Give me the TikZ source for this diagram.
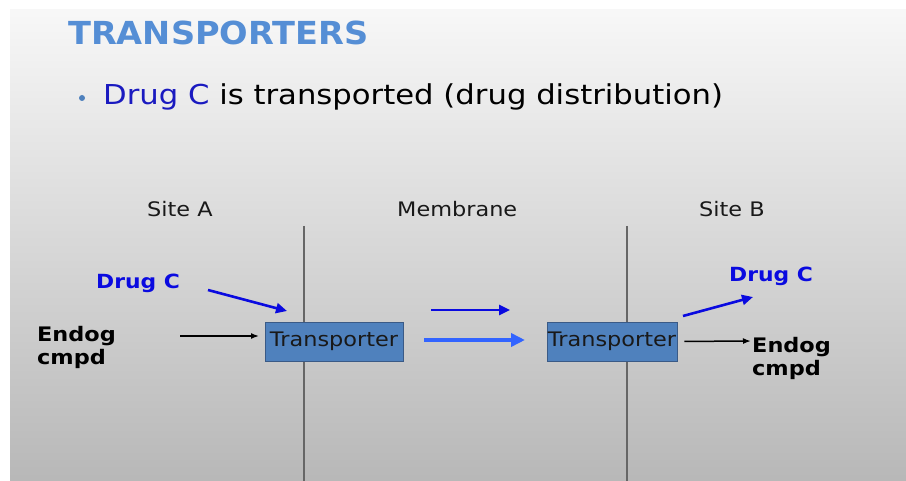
\documentclass[tikz,border=0pt]{standalone}
\usepackage{fontspec}
\setmainfont{DejaVu Sans}[FakeStretch=1.12]
\newfontfamily\titlefont{DejaVu Sans}[FakeStretch=1.06]
\usepackage{tikz}
\usetikzlibrary{arrows.meta}
\definecolor{SBlue}{HTML}{4F81BD}
\definecolor{BoxEdge}{HTML}{3A5A86}
\definecolor{TitleBlue}{HTML}{558ED5}
\definecolor{TextBlue}{HTML}{1A1AC0}
\definecolor{DrugBlue}{HTML}{0A0AE0}
\definecolor{FlowBlue}{HTML}{3264FF}

\begin{document}
\begin{tikzpicture}[
  x=1pt,y=-1pt,
  lbl/.style={inner sep=0pt,anchor=base west},
  heading/.style={lbl,font=\titlefont\fontsize{31.7}{36}\selectfont\bfseries},
  drug/.style={lbl,font=\fontsize{19.5}{23}\selectfont\bfseries,text=DrugBlue},
  endog/.style={inner sep=0pt,anchor=north west,align=left,
    font=\fontsize{20}{23}\selectfont\bfseries},
  site/.style={lbl,font=\fontsize{20}{24}\selectfont,text=black!90},
  carrier/.style={draw=BoxEdge,fill=SBlue,line width=0.8pt,minimum height=39pt,
    inner sep=0pt,font=\fontsize{20}{24}\selectfont,text=black!90},
  membr/.style={draw=black!60,line width=1.2pt},
  thinarr/.style={-{Latex[length=8pt,width=6pt]},line width=1.5pt},
  bluearr/.style={-{Triangle[length=11pt,width=10pt]},line width=2.6pt,color=DrugBlue},
  widearr/.style={-{Triangle[length=14pt,width=13pt]},line width=4.5pt,color=FlowBlue}
]
  \useasboundingbox (0,0) rectangle (906,481);
  \fill[white] (0,0) rectangle (906,481);
  \shade[top color=black!3,bottom color=black!28] (10,10) rectangle (906,481);

  % heading and bullet
  \node[heading,text=TitleBlue] (title) at (68,45) {TRANSPORTERS};
  \node[circle,fill=SBlue,inner sep=0pt,minimum size=6pt] (dot) at (82,98) {};
  \node[lbl,font=\fontsize{27.4}{32}\selectfont] (point) at (103,105)
    {\textcolor{TextBlue}{Drug C} is transported (drug distribution)};

  \node[site] (siteA) at (147,217) {Site A};
  \node[site] (membrane) at (397,217) {Membrane};
  \node[site] (siteB) at (699,217) {Site B};

  % membrane walls
  \coordinate (wallAtop) at (304,226);
  \coordinate (wallAbot) at (304,481);
  \coordinate (wallBtop) at (627,226);
  \coordinate (wallBbot) at (627,481);
  \draw[membr] (wallAtop) -- (wallAbot);
  \draw[membr] (wallBtop) -- (wallBbot);

  \node[carrier,minimum width=138pt] (tr1) at (334,341.5) {Transporter};
  \node[carrier,minimum width=130pt] (tr2) at (612,341.5) {Transporter};

  \node[drug] (drugA) at (96,289) {Drug C};
  \node[endog] (endogA) at (37,326) {Endog\\cmpd};
  \node[drug] (drugB) at (729,282) {Drug C};
  \node[endog] (endogB) at (752,337) {Endog\\cmpd};

  \coordinate (drugAtail) at (208,290);
  \coordinate (drugAtip) at (287,311);
  \coordinate (endogAtail) at (180,336);
  \coordinate (endogAtip) at (259,336);
  \coordinate (flowTtail) at (431,310);
  \coordinate (flowTtip) at (510,310);
  \coordinate (flowBtail) at (424,340);
  \coordinate (flowBtip) at (525,340);
  \coordinate (drugBtail) at (683,316);
  \coordinate (drugBtip) at (753,297);
  \coordinate (endogBtip) at (751,341);

  \draw[bluearr] (drugAtail) -- (drugAtip);
  \draw[thinarr] (endogAtail) -- (endogAtip);
  \draw[bluearr] (flowTtail) -- (flowTtip);
  \draw[widearr] (flowBtail) -- (flowBtip);
  \draw[bluearr] (drugBtail) -- (drugBtip);
  \draw[thinarr,shorten <=7pt] (tr2.east) -- (endogBtip);
\end{tikzpicture}
\end{document}
